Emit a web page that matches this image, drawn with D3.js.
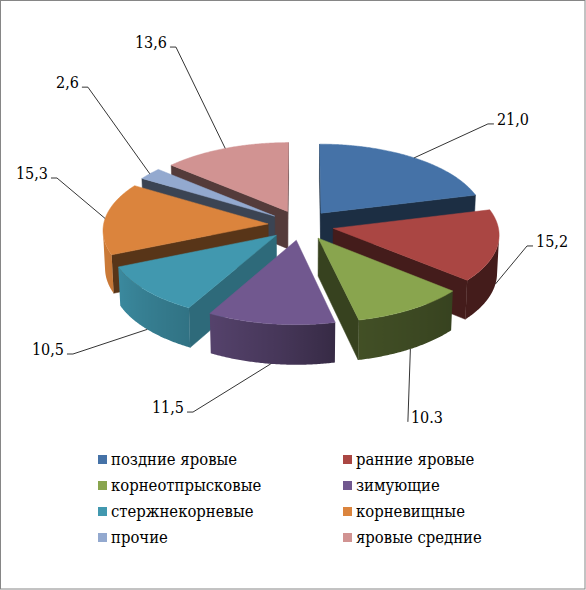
<!DOCTYPE html>
<html>
<head>
    <meta charset="utf-8">
    <script src="https://cdn.jsdelivr.net/npm/d3@7/dist/d3.min.js"></script>
    <title>3D pie</title>
    <style>
        * {
            margin: 0;
            padding: 0;
        }

        body {
            background: #fff;
        }

        svg {
            display: block;
        }

        .lbl {
            font-family: "DejaVu Serif Condensed", "DejaVu Serif";
            font-stretch: condensed;
            font-size: 16px;
        }

        .leg {
            font-family: "DejaVu Serif Condensed", "DejaVu Serif";
            font-stretch: condensed;
            font-size: 16.5px;
        }
    </style>
</head>
<body>
    <div id="chart"></div>
    <script>
        var categories = ["поздние яровые", "ранние яровые", "корнеотпрысковые", "зимующие",
            "стержнекорневые", "корневищные", "прочие", "яровые средние"];
        var values = [21.0, 15.2, 10.3, 11.5, 10.5, 15.3, 2.6, 13.6];
        var valueText = ["21,0", "15,2", "10.3", "11,5", "10,5", "15,3", "2,6", "13,6"];
        var colors = ["#4572A7", "#AA4643", "#89A54E", "#71588F", "#4198AF", "#DB843D", "#93A9CF", "#D19392"];
        // labels were dragged by hand in the original: screen angle (deg from 12 o'clock) and distance
        var labelAngle = [61.6, 95.3, 151.5, 210, 240.5, 280.9, 302.9, 324.9];
        var labelDist = [212.5, 227, 224, 216, 262, 248.5, 253.8, 217.5];

        var width = 586, height = 590;
        var cx = 301, cy = 225, scale = 163, tilt = 28.5 * Math.PI / 180, dist = 12, depth = 0.26, explode = 0.2;
        var sa = Math.sin(tilt), ca = Math.cos(tilt);

        var svg = d3.select("#chart")
            .append("svg")
            .attr("width", width)
            .attr("height", height);

        svg.append("rect")
            .attr("x", 0.5)
            .attr("y", 0.5)
            .attr("width", width - 1.5)
            .attr("height", height - 1.5)
            .attr("fill", "#fff")
            .attr("stroke", "#868686");

        var defs = svg.append("defs");

        // perspective projection of the pie (radius 1, top at Z = depth)
        function raw(X, Y, Z) {
            var u = Y * sa + Z * ca, w = -Y * ca + Z * sa, f = dist / (dist - w);
            return [X * scale * f, -u * scale * f];
        }
        var p0 = raw(0, 0, depth);
        function proj(X, Y, Z) {
            var p = raw(X, Y, Z);
            return [cx + p[0] - p0[0], cy + p[1] - p0[1]];
        }
        var cam = [0, -dist * ca, dist * sa];
        function facing(P, n) {
            return (cam[0] - P[0]) * n[0] + (cam[1] - P[1]) * n[1] + (cam[2] - P[2]) * n[2] > 0;
        }
        function shade(c, k) {
            return d3.interpolateRgb("#000", c)(k);
        }
        var outerShade = d3.scaleLinear()
            .domain([60, 130, 167, 185, 210, 250, 300])
            .range([0.40, 0.40, 0.48, 0.62, 0.76, 0.92, 0.95])
            .clamp(true);
        function radialShade(n) {
            var a = Math.atan2(n[0], n[1]) * 180 / Math.PI;
            if (a < 0) a += 360;
            return (a > 95 && a < 145) ? 0.7 : 0.4;
        }
        function pts(list) {
            return "M" + list.map(function (p) { return p[0].toFixed(2) + "," + p[1].toFixed(2); }).join("L") + "Z";
        }

        var arcs = d3.pie().sort(null).value(function (d) { return d; })(values);

        var slices = arcs.map(function (a, i) {
            var a0 = a.startAngle, a1 = a.endAngle, m = (a0 + a1) / 2;
            var ox = explode * Math.sin(m), oy = explode * Math.cos(m);
            var rim = function (t, z) { return proj(ox + Math.sin(t), oy + Math.cos(t), z); };
            var n = Math.max(2, Math.ceil((a1 - a0) / (0.5 * Math.PI / 180)));
            var ts = d3.range(n + 1).map(function (k) { return a0 + (a1 - a0) * k / n; });
            return { i: i, a0: a0, a1: a1, m: m, ox: ox, oy: oy, rim: rim, ts: ts, depthKey: oy + 0.5 * Math.cos(m) };
        });

        var sideLayer = svg.append("g");
        var topLayer = svg.append("g");

        slices.slice().sort(function (p, q) { return q.depthKey - p.depthKey; }).forEach(function (s) {
            var g = sideLayer.append("g");
            var c = colors[s.i];

            // radial cut faces
            [[s.a0, [-Math.cos(s.a0), Math.sin(s.a0), 0]], [s.a1, [Math.cos(s.a1), -Math.sin(s.a1), 0]]].forEach(function (f) {
                var t = f[0], nrm = f[1];
                var P = [s.ox + 0.5 * Math.sin(t), s.oy + 0.5 * Math.cos(t), depth / 2];
                if (!facing(P, nrm)) return;
                g.append("path")
                    .attr("d", pts([proj(s.ox, s.oy, depth), s.rim(t, depth), s.rim(t, 0), proj(s.ox, s.oy, 0)]))
                    .attr("fill", shade(c, radialShade(nrm)))
                    .attr("stroke", shade(c, radialShade(nrm)))
                    .attr("stroke-width", 0.5);
            });

            // outer curved side, split into visible runs
            var runs = [], cur = null;
            s.ts.forEach(function (t) {
                var vis = facing([s.ox + Math.sin(t), s.oy + Math.cos(t), depth / 2], [Math.sin(t), Math.cos(t), 0]);
                if (vis) {
                    if (!cur) { cur = []; runs.push(cur); }
                    cur.push(t);
                } else cur = null;
            });
            runs.forEach(function (run, r) {
                if (run.length < 2) return;
                var top = run.map(function (t) { return s.rim(t, depth); });
                var bot = run.map(function (t) { return s.rim(t, 0); }).reverse();
                var xs = top.map(function (p) { return p[0]; });
                var x0 = d3.min(xs), x1 = d3.max(xs);
                var id = "side" + s.i + "_" + r;
                var grad = defs.append("linearGradient")
                    .attr("id", id)
                    .attr("gradientUnits", "userSpaceOnUse")
                    .attr("x1", x0).attr("y1", 0).attr("x2", x1).attr("y2", 0);
                run.map(function (t, k) {
                    return { off: (xs[k] - x0) / Math.max(1e-6, x1 - x0), col: shade(c, outerShade(t * 180 / Math.PI)) };
                }).sort(function (p, q) { return p.off - q.off; }).forEach(function (st) {
                    grad.append("stop").attr("offset", st.off).attr("stop-color", st.col);
                });
                g.append("path")
                    .attr("d", pts(top.concat(bot)))
                    .attr("fill", "url(#" + id + ")");
            });
        });

        slices.forEach(function (s) {
            var list = [proj(s.ox, s.oy, depth)].concat(s.ts.map(function (t) { return s.rim(t, depth); }));
            topLayer.append("path")
                .attr("d", pts(list))
                .attr("fill", colors[s.i])
                .attr("stroke", colors[s.i])
                .attr("stroke-width", 0.5);
        });

        // leader lines and value labels
        var labels = svg.append("g");
        slices.forEach(function (s) {
            var start = s.rim(s.m, Math.cos(s.m) < 0 ? 0 : depth);
            var a = labelAngle[s.i] * Math.PI / 180;
            var anchor = [cx + labelDist[s.i] * Math.sin(a), cy - labelDist[s.i] * Math.cos(a)];
            var right = anchor[0] > cx;
            var stub = Math.abs(anchor[0] - start[0]) > 10 ? 6 : 0;
            var end = [anchor[0] + (right ? stub : -stub), anchor[1]];
            labels.append("polyline")
                .attr("points", [start, anchor, end].map(function (p) { return p.join(","); }).join(" "))
                .attr("fill", "none")
                .attr("stroke", "#000")
                .attr("stroke-width", 0.8);
            labels.append("text")
                .attr("class", "lbl")
                .attr("x", end[0] + (right ? 3 : -3))
                .attr("y", anchor[1] + 1)
                .attr("text-anchor", right ? "start" : "end")
                .text(valueText[s.i]);
        });

        // legend
        var legend = svg.append("g");
        categories.forEach(function (name, i) {
            var col = i % 2, row = Math.floor(i / 2);
            var g = legend.append("g")
                .attr("transform", "translate(" + (98 + col * 245) + "," + (455 + row * 26) + ")");
            g.append("rect")
                .attr("width", 9)
                .attr("height", 9)
                .attr("fill", colors[i]);
            g.append("text")
                .attr("class", "leg")
                .attr("x", 13)
                .attr("y", 10)
                .text(name);
        });
    </script>
</body>
</html>
